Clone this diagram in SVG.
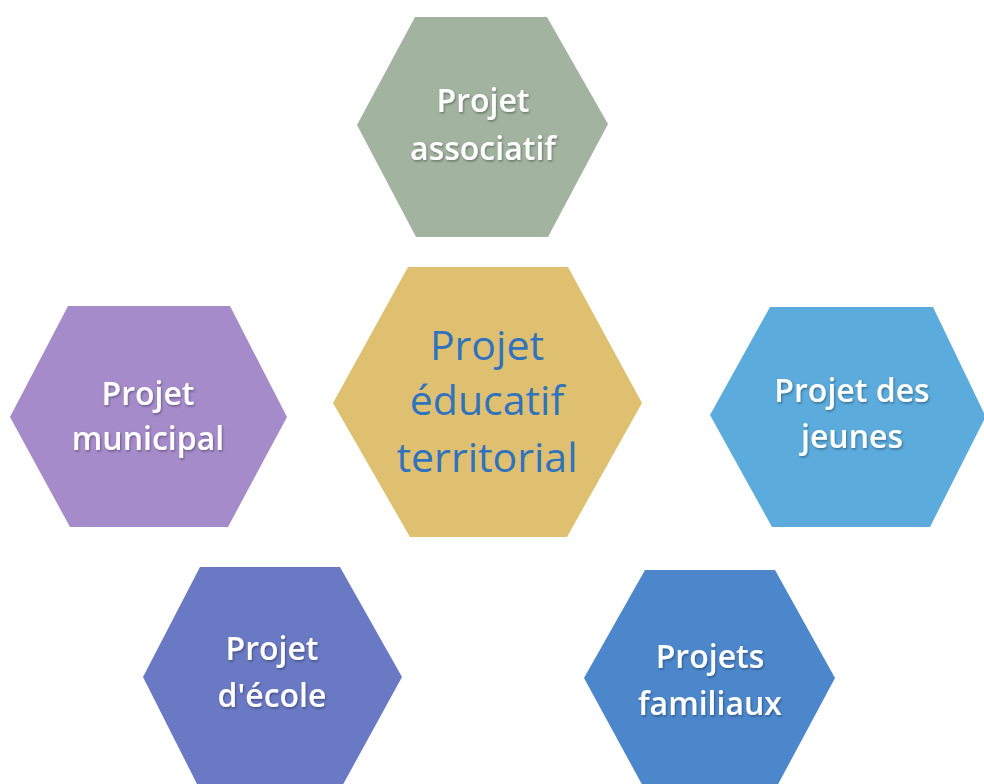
<svg xmlns="http://www.w3.org/2000/svg" width="984" height="784" viewBox="0 0 984 784">
<defs>
<filter id="sh" x="-10%" y="-10%" width="120%" height="130%">
<feDropShadow dx="1" dy="1.5" stdDeviation="0.8" flood-color="#000" flood-opacity="0.35"/>
</filter>
</defs>
<style>
.w{font-family:"Open Sans","Noto Sans","Liberation Sans",sans-serif;font-size:32px;font-weight:600;fill:#ffffff;text-anchor:middle;filter:url(#sh)}
.b{font-family:"Open Sans","Noto Sans","Liberation Sans",sans-serif;font-size:41px;fill:#2f73bf;text-anchor:middle}
</style>
<rect width="984" height="784" fill="#ffffff"/>
<g id="associatif">
<polygon points="415,17 547,17 608,124 548,237 416,237 357,125" fill="#a2b4a0"/>
<text class="w" x="483" y="112">Projet</text>
<text class="w" x="483" y="160">associatif</text>
</g>
<g id="educatif">
<polygon points="408,267 568,267 642,403 567,537 410,537 333,403" fill="#dfbf70"/>
<text class="b" x="487" y="360">Projet</text>
<text class="b" x="487" y="415">éducatif</text>
<text class="b" x="487" y="472">territorial</text>
</g>
<g id="municipal">
<polygon points="68,306 230,306 287,417 228,527 70,527 10,417" fill="#a68bcb"/>
<text class="w" x="148" y="405">Projet</text>
<text class="w" x="148" y="450">municipal</text>
</g>
<g id="jeunes">
<polygon points="770,307 933,307 984,413 984,420 930,527 772,527 710,415" fill="#5babdc"/>
<text class="w" x="852" y="402">Projet des</text>
<text class="w" x="852" y="448">jeunes</text>
</g>
<g id="ecole">
<polygon points="200,567 340,567 402,677 340,790 200,790 143,677" fill="#6a79c4"/>
<text class="w" x="272" y="660">Projet</text>
<text class="w" x="272" y="707">d'école</text>
</g>
<g id="familiaux">
<polygon points="645,570 775,570 835,678 775,790 645,790 584,678" fill="#4c87cc"/>
<text class="w" x="710" y="668">Projets</text>
<text class="w" x="710" y="715">familiaux</text>
</g>
<g id="connectors"></g>
</svg>
